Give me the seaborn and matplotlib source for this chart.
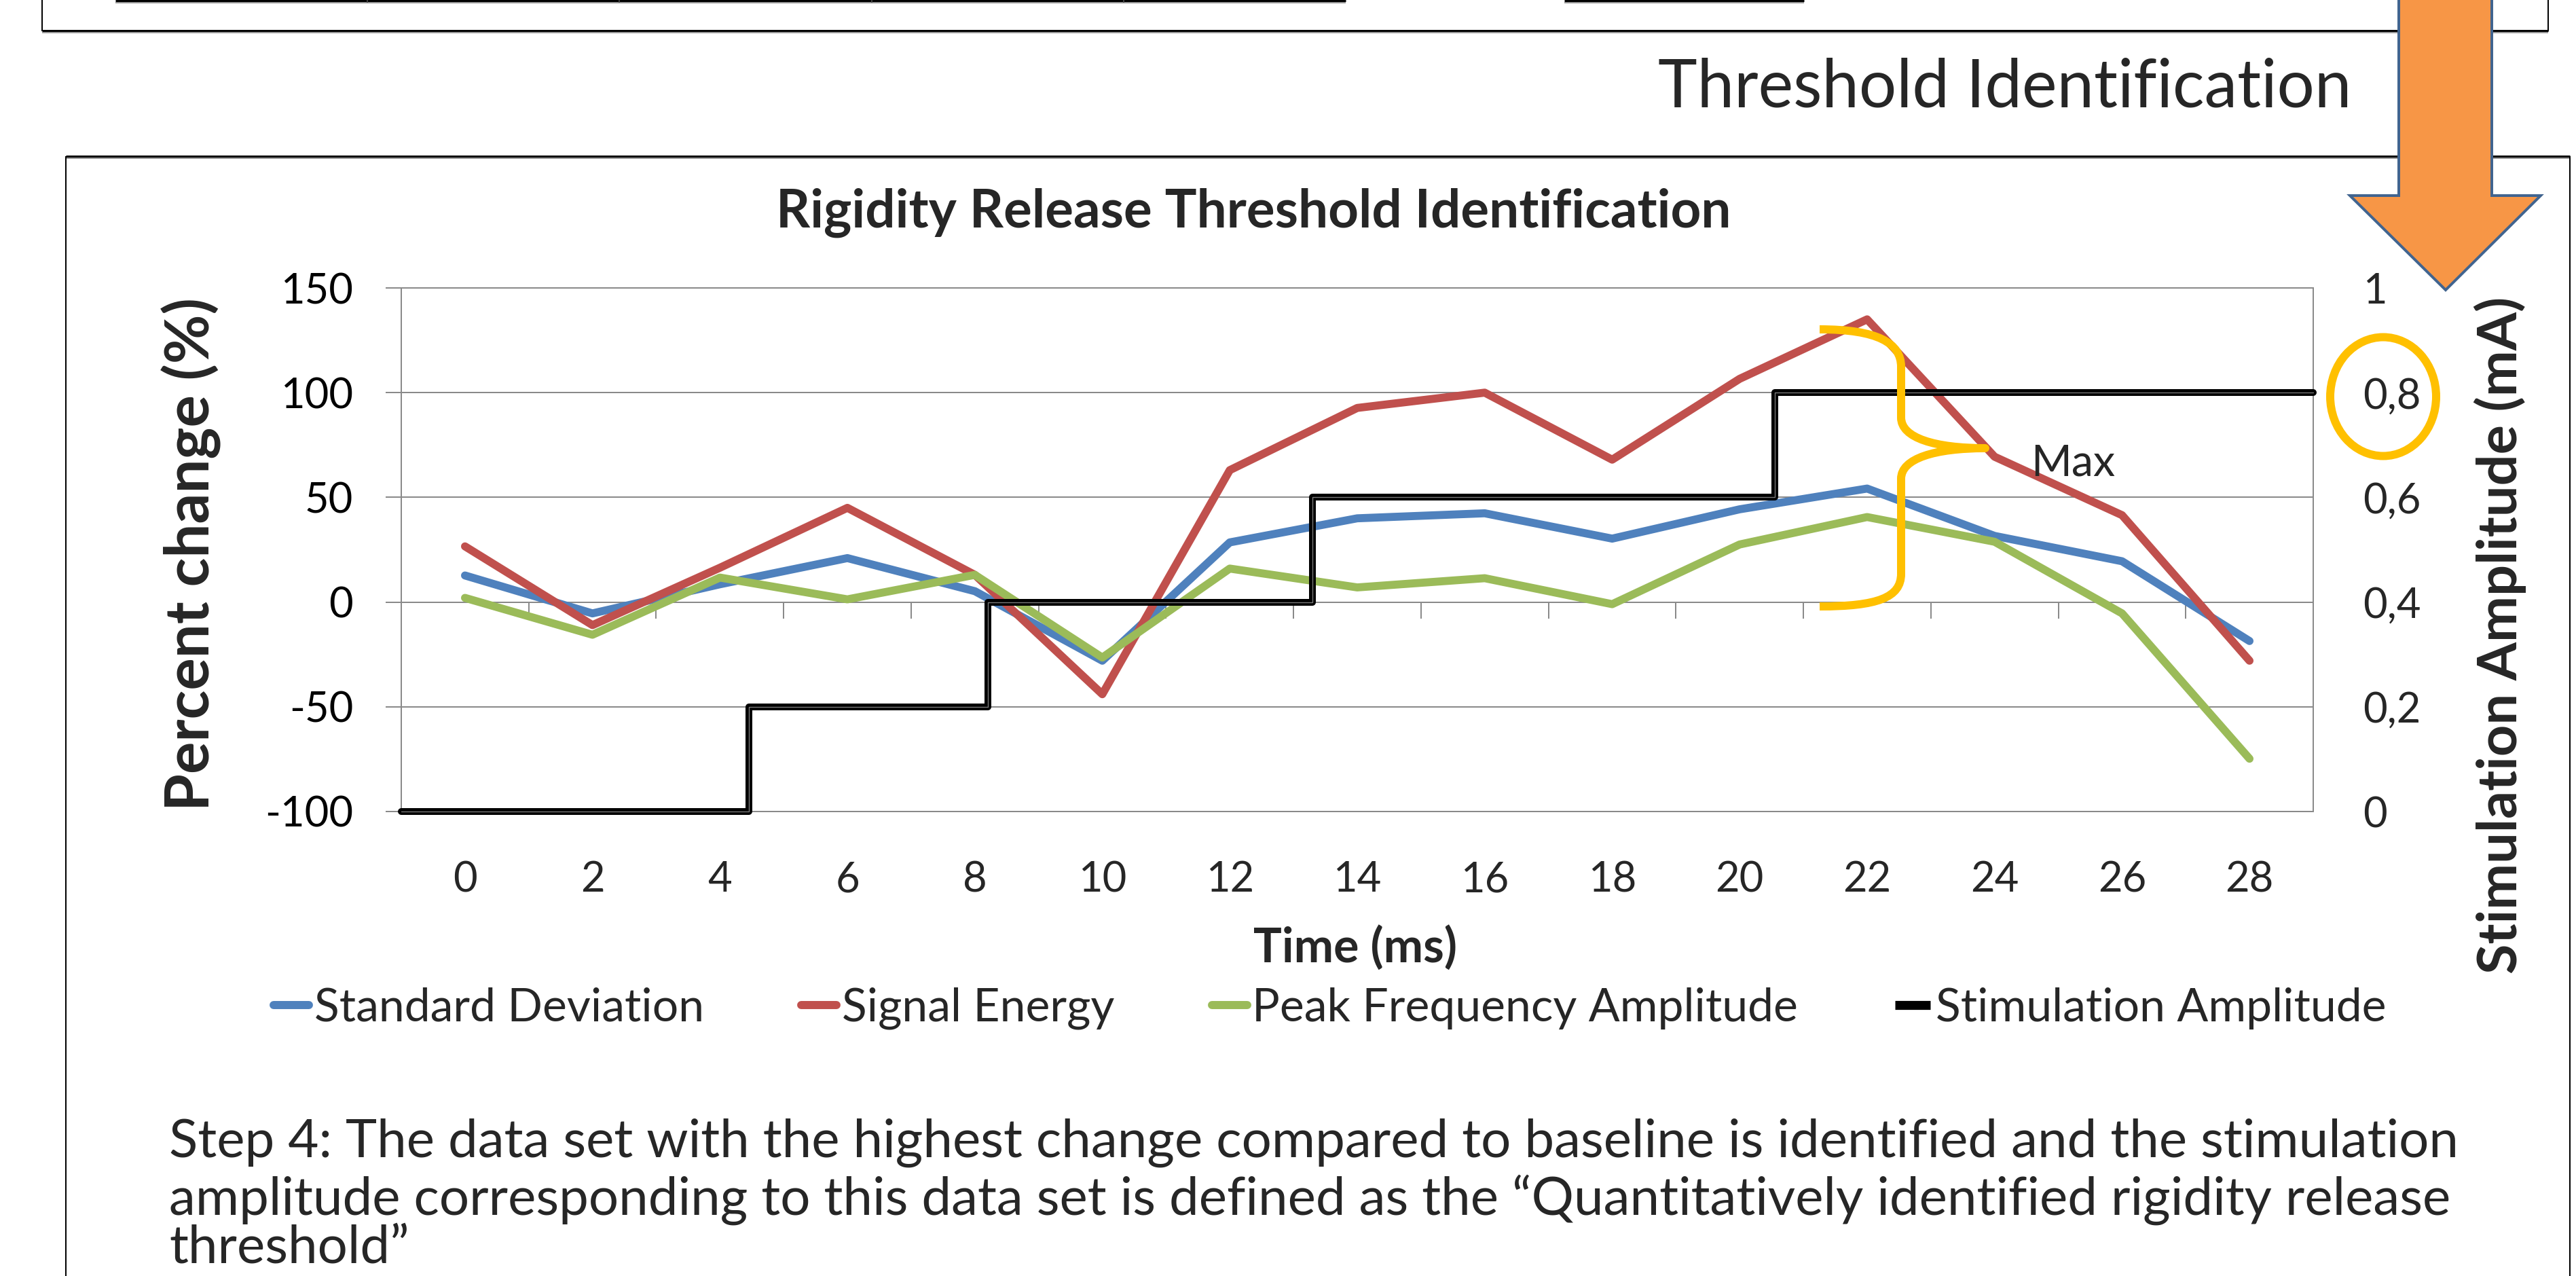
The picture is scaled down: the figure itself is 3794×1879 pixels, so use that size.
import numpy as np
import pandas as pd
import matplotlib
matplotlib.use("Agg")
import matplotlib.pyplot as plt
import matplotlib.patheffects as pe
import seaborn as sns
from matplotlib.lines import Line2D
from matplotlib.patches import Polygon, Ellipse, PathPatch
from matplotlib.path import Path
from matplotlib.transforms import Affine2D

# ---------------- data ----------------
time_ms = [0, 2, 4, 6, 8, 10, 12, 14, 16, 18, 20, 22, 24, 26, 28]
std_dev = [12.7, -5.4, 8.5, 21, 5.2, -28, 28.5, 40, 42.4, 30.3, 44.3, 54.2, 31.6, 19.5, -18.6]
signal_energy = [26.6, -11, 16.4, 45, 13, -44, 63, 92.7, 100, 68, 106.6, 135, 69.4, 41.5, -28]
peak_freq_amp = [2, -15.6, 11.7, 1.3, 13, -26.5, 16, 7, 11.4, -1, 27.5, 40.6, 28.8, -5.4, -74.8]
series_names = ["Standard Deviation", "Signal Energy", "Peak Frequency Amplitude"]
series_colors = ["#4F81BD", "#C0504D", "#9BBB59"]
stim_name = "Stimulation Amplitude"
stim_edges_ms = [-1, 4.45, 8.2, 13.3, 20.55, 29]
stim_levels_mA = [0, 0.2, 0.4, 0.6, 0.8]
left_ticks = [-100, -50, 0, 50, 100, 150]
right_ticks = [0, 0.2, 0.4, 0.6, 0.8, 1.0]
right_tick_labels = ["0", "0,2", "0,4", "0,6", "0,8", "1"]

title = "Rigidity Release Threshold Identification"
xlabel = "Time (ms)"
ylabel_left = "Percent change (%)"
ylabel_right = "Stimulation Amplitude (mA)"
header = "Threshold Identification"
para_lines = [
    "Step 4: The data set with the highest change compared to baseline is identified and the stimulation",
    "amplitude corresponding to this data set is defined as the \u201cQuantitatively identified rigidity release",
    "threshold\u201d",
]

# ---------------- setup ----------------
sns.set_style("white")
plt.rcParams["font.family"] = ["Lato", "DejaVu Sans"]
plt.rcParams["axes.unicode_minus"] = False

W, H = 3794, 1879
PT = 72 / 100.0
fig = plt.figure(figsize=(W / 100, H / 100), dpi=100)
fig.patch.set_facecolor("white")
renderer = fig.canvas.get_renderer()
tpx = Affine2D().scale(1 / W, -1 / H).translate(0, 1) + fig.transFigure


def fit_size(text, target_px, weight="normal"):
    t = fig.text(0, 0, text, fontsize=100, fontweight=weight)
    w = t.get_window_extent(renderer=renderer).width
    t.remove()
    return 100 * target_px / w


tick_fs = fit_size("150", 107)
leg_fs = fit_size("Standard Deviation", 574)
max_fs = fit_size("Max", 124)
thr_fs = fit_size(header, 1022)
par_fs = fit_size(para_lines[0], 3373)
title_fs = fit_size(title, 1408, "bold")
xl_fs = fit_size(xlabel, 300, "bold")
yl_fs = fit_size(ylabel_left, 756, "bold")
yr_fs = fit_size(ylabel_right, 997, "bold")

GRAY = "#8a8a8a"

# ---------------- axes ----------------
L, R, T, B = 591, 3407, 424, 1195
ax = fig.add_axes([L / W, 1 - B / H, (R - L) / W, (B - T) / H])
ax.set_facecolor("white")

df = pd.DataFrame({
    "Time": time_ms * 3,
    "Percent": std_dev + signal_energy + peak_freq_amp,
    "Series": sum([[n] * len(time_ms) for n in series_names], []),
})
sns.lineplot(data=df, x="Time", y="Percent", hue="Series", hue_order=series_names,
             palette=series_colors, linewidth=8.5, ax=ax, legend=False,
             solid_capstyle="round", solid_joinstyle="round", zorder=3)

ax.set_xlim(-1, 29)
ax.set_ylim(-100, 150)
ax.set_xlabel("")
ax.set_ylabel("")
ax.set_yticks(left_ticks)
ax.set_yticklabels([str(v) for v in left_ticks])
ax.grid(axis="y", color=GRAY, linewidth=2 * PT)
ax.grid(axis="x", visible=False)
ax.set_axisbelow(True)
ax.tick_params(axis="y", length=23 * PT, width=2 * PT, color=GRAY, pad=48 * PT,
               labelsize=tick_fs, labelcolor="black", direction="out", left=True)
ax.set_xticks(np.arange(-1, 30, 2))
ax.tick_params(axis="x", length=24 * PT, width=2 * PT, color=GRAY, labelbottom=False,
               direction="out", bottom=True)
ax.spines["bottom"].set_position(("data", 0))
for s in ["bottom", "left", "right", "top"]:
    ax.spines[s].set_visible(True)
    ax.spines[s].set_color(GRAY)
    ax.spines[s].set_linewidth(2 * PT)

secax = ax.secondary_xaxis("bottom")
secax.set_xticks(time_ms)
secax.set_xticklabels([str(t) for t in time_ms])
secax.tick_params(axis="x", length=0, pad=72 * PT, labelsize=tick_fs)
secax.spines["bottom"].set_color(GRAY)
secax.spines["bottom"].set_linewidth(2 * PT)

ax2 = ax.twinx()
sns.lineplot(x=stim_edges_ms, y=stim_levels_mA + [stim_levels_mA[-1]], ax=ax2,
             drawstyle="steps-post", color="black", linewidth=7.2, clip_on=False,
             path_effects=[pe.Normal(), pe.Stroke(linewidth=1.0, foreground="#7a7a7a")],
             zorder=2)
ax2.set_ylim(0, 1)
ax2.set_xlim(-1, 29)
ax2.set_yticks(right_ticks)
ax2.set_yticklabels(right_tick_labels)
ax2.tick_params(axis="y", length=0, pad=73 * PT, labelsize=tick_fs, right=True)
ax2.set_ylabel("")
for s in ax2.spines.values():
    s.set_visible(False)

# ---------------- texts ----------------
fig.text(1846, 313, title, transform=tpx, ha="center", va="center",
         fontsize=title_fs, fontweight="bold")
fig.text(282, 816, ylabel_left, transform=tpx, ha="center", va="center",
         rotation=90, fontsize=yl_fs, fontweight="bold")
fig.text(3682, 935, ylabel_right, transform=tpx, ha="center", va="center",
         rotation=90, fontsize=yr_fs, fontweight="bold")
fig.text(1996, 1395, xlabel, transform=tpx, ha="center", va="center",
         fontsize=xl_fs, fontweight="bold")
ax.text(24.57, 60.4, "Max", ha="left", va="baseline", fontsize=max_fs, zorder=6)
fig.text(2442, 158, header, transform=tpx, ha="left", va="baseline", fontsize=thr_fs)
for yb, line in zip([1704, 1789, 1860], para_lines):
    fig.text(249, yb, line, transform=tpx, ha="left", va="baseline", fontsize=par_fs)

# ---------------- legend ----------------
leg_px = leg_fs / PT
handles = [Line2D([], [], color=c, linewidth=8.6, solid_capstyle="round")
           for c in series_colors] + [Line2D([], [], color="black", linewidth=9.5,
                                             solid_capstyle="butt")]
fig.legend(handles, series_names + [stim_name], loc="center left",
           bbox_to_anchor=(403 / W, 1 - 1485 / H), ncol=4, frameon=False,
           fontsize=leg_fs, handlelength=52 / leg_px, handletextpad=8 / leg_px,
           columnspacing=143 / leg_px, borderpad=0, borderaxespad=0)

# ---------------- frames / decorations ----------------
def pline(xs, ys, lw=2.5, color="black", z=5):
    fig.add_artist(Line2D(xs, ys, transform=tpx, color=color, linewidth=lw * PT,
                          zorder=z, solid_capstyle="butt"))

# top (cut) box
pline([62, 62], [0, 46], 2)
pline([3753, 3753], [0, 46], 2)
pline([62, 3753], [45.5, 45.5], 3)
pline([62, 3753], [48.5, 48.5], 2, "#9a9a9a")
# table remnants at the top
pline([170, 1982], [1.5, 1.5], 3)
pline([170, 1982], [4.5, 4.5], 2, "#9a9a9a")
pline([2304, 2657], [1.5, 1.5], 3)
pline([2304, 2657], [4.5, 4.5], 2, "#9a9a9a")
for xv in [541, 912, 1284, 1655]:
    pline([xv, xv], [0, 4], 1.5, "#555555")
# bottom box
pline([97, 3785], [230, 230], 3)
pline([97, 3785], [233, 233], 2, "#9a9a9a")
pline([97, 97], [230, 1879], 2)
pline([3785, 3785], [230, 1879], 2)

# orange arrow
arrow_pts = [(3533, -10), (3670, -10), (3670, 288), (3742, 288), (3602, 427),
             (3461, 288), (3533, 288)]
fig.add_artist(Polygon(arrow_pts, closed=True, transform=tpx, facecolor="#F79646",
                       edgecolor="#41648F", linewidth=4 * PT, zorder=10))

# yellow ellipse around 0,8
fig.add_artist(Ellipse((3510, 584), 156, 175, transform=tpx, fill=False,
                       edgecolor="#FFC000", linewidth=12 * PT, zorder=10))

# curly brace
verts = [(2680, 485), (2765, 485), (2800, 505), (2800, 540),
         (2800, 615),
         (2800, 645), (2850, 660), (2924, 660),
         (2850, 660), (2800, 675), (2800, 705),
         (2800, 845),
         (2800, 880), (2765, 893), (2680, 893)]
codes = [Path.MOVETO, Path.CURVE4, Path.CURVE4, Path.CURVE4,
         Path.LINETO,
         Path.CURVE4, Path.CURVE4, Path.CURVE4,
         Path.CURVE4, Path.CURVE4, Path.CURVE4,
         Path.LINETO,
         Path.CURVE4, Path.CURVE4, Path.CURVE4]
fig.add_artist(PathPatch(Path(verts, codes), transform=tpx, fill=False,
                         edgecolor="#FFC000", linewidth=12 * PT, zorder=10,
                         capstyle="butt", joinstyle="round"))

fig.savefig("out.png", dpi=100, facecolor="white")
